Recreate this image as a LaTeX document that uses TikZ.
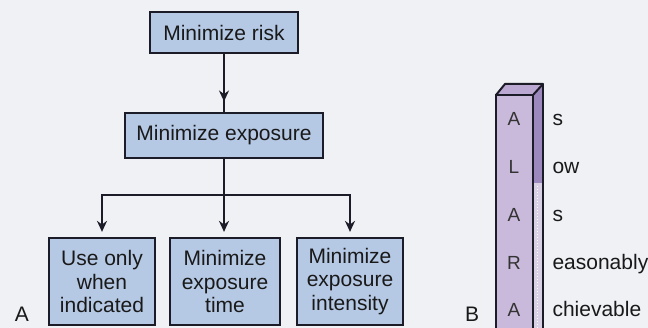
\documentclass[tikz,border=0pt]{standalone}
\usepackage{fontspec}
\setmainfont{Liberation Sans}
\usetikzlibrary{arrows.meta,decorations.markings}
\definecolor{bg}{HTML}{EFF1F5}
\definecolor{boxblue}{HTML}{B5C8E4}
\definecolor{edge}{HTML}{1C1C28}
\definecolor{colfront}{HTML}{C9BADB}
\definecolor{coltop}{HTML}{BBA8D2}
\definecolor{colside}{HTML}{9C88BC}
\definecolor{colsidelow}{HTML}{D9D0E6}
\tikzset{
  flowbox/.style={draw=edge, line width=2.2pt, fill=boxblue, inner sep=0pt,
    font=\fontsize{21}{23.5}\selectfont, align=center, text=black!90},
  conn/.style={draw=edge, line width=2.6pt},
  tip/.style={-{Stealth[length=11pt,width=10pt]}},
  lbl/.style={font=\fontsize{21}{24}\selectfont, text=black!90},
  colletter/.style={font=\fontsize{19}{22}\selectfont, text=black!80},
  colword/.style={font=\fontsize{21}{24}\selectfont, text=black!90, anchor=base west}
}
\begin{document}
\begin{tikzpicture}[x=1pt,y=-1pt]
\useasboundingbox[fill=bg] (0,0) rectangle (648,328);
% Part A
\node[flowbox, minimum width=148pt, minimum height=41pt] (risk) at (224,32.5) {Minimize risk};
\node[flowbox, minimum width=198pt, minimum height=45pt] (expo) at (224,135.5) {Minimize exposure};
\node[flowbox, minimum width=106pt, minimum height=87pt] (use) at (102,281.5) {Use only\\when\\indicated};
\node[flowbox, minimum width=110pt, minimum height=87pt] (time) at (225,281.5) {Minimize\\exposure\\time};
\node[flowbox, minimum width=106pt, minimum height=87pt] (inten) at (350,281.5) {Minimize\\exposure\\intensity};
\draw[conn, postaction={decorate}, decoration={markings, mark=at position 0.82 with {\arrow{Stealth[length=11pt,width=10pt]}}}] (risk.south) -- (expo.north);
\coordinate (br) at (224,195);
\coordinate (brL) at (102,195);
\coordinate (brR) at (350,195);
\draw[conn] (expo.south) -- (br);
\draw[conn, line cap=rect] (brL) -- (brR);
\draw[conn, tip, shorten >=5pt] (brL) -- (use.north);
\draw[conn, tip, shorten >=5pt] (br) -- (time.north -| br);
\draw[conn, tip, shorten >=5pt] (brR) -- (inten.north);
\node[lbl, anchor=base] (labA) at (22,322) {A};
% Part B
\fill[colside] (533,95) -- (543,84) -- (543,183) -- (533,183) -- cycle;
\fill[colsidelow] (533,183) -- (543,183) -- (543,328) -- (533,328) -- cycle;
\draw[white, line width=1pt, dotted] (537,186) -- (537,328);
\fill[coltop] (496,95) -- (505,84) -- (543,84) -- (533,95) -- cycle;
\draw[edge, line width=2pt, fill=colfront] (496,328) -- (496,95) -- (533,95) -- (533,328);
\draw[edge, line width=2pt, line join=round] (496,95) -- (505,84) -- (543,84) -- (533,95);
\draw[edge, line width=2pt] (543,84) -- (543,328);
\node[colletter] (l1) at (514,119) {A};
\node[colletter] (l2) at (514,167) {L};
\node[colletter] (l3) at (514,215) {A};
\node[colletter] (l4) at (514,263) {R};
\node[colletter] (l5) at (514,310) {A};
\node[colword] (w1) at (549,126) {s};
\node[colword] (w2) at (549,174) {ow};
\node[colword] (w3) at (549,222) {s};
\node[colword] (w4) at (549,270) {easonably};
\node[colword] (w5) at (549,317) {chievable};
\node[lbl, anchor=base] (labB) at (472,322) {B};
\end{tikzpicture}
\end{document}
